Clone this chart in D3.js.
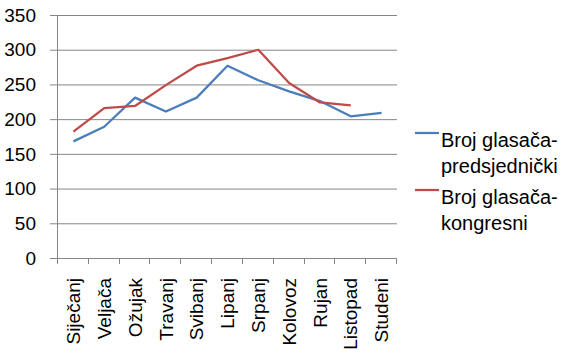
<!DOCTYPE html>
<html><head><meta charset="utf-8">
<script src="https://cdn.jsdelivr.net/npm/d3@7"></script>
<style>body{margin:0;background:#fff;} svg{display:block;font-family:"Liberation Sans",Arial,sans-serif;}</style>
</head><body>
<svg id="c" width="568" height="361"></svg>
<script>
const months = ["Siječanj","Veljača","Ožujak","Travanj","Svibanj","Lipanj","Srpanj","Kolovoz","Rujan","Listopad","Studeni"];
const predsjednicki = [168,189,231,211,231,277,256,240,226,204,209];
const kongresni = [182,216,219,249,277,288,300,252,224,220,null];
const yTicks = [0,50,100,150,200,250,300,350];
const seriesNames = [["Broj glasača-","predsjednički"],["Broj glasača-","kongresni"]];
const colors = ["#4A7EBB","#BE4B48"];

const svg = d3.select("#c");
const x = d3.scaleBand().domain(months).range([58,397]);
const y = d3.scaleLinear().domain([0,350]).range([258,15]);
const grid = "#868686";

// gridlines
svg.append("g").selectAll("line").data(yTicks).join("line")
  .attr("x1",50).attr("x2",397).attr("y1",d=>y(d)+0.5).attr("y2",d=>y(d)+0.5)
  .attr("stroke",grid).attr("stroke-width",1);
// y labels
svg.append("g").selectAll("text").data(yTicks).join("text")
  .attr("x",36).attr("y",d=>y(d)).attr("dy","0.35em").attr("text-anchor","end")
  .attr("font-size",19).attr("fill","#000").text(d=>d);
// y axis line
svg.append("line").attr("x1",57.5).attr("x2",57.5).attr("y1",y(350)).attr("y2",264).attr("stroke",grid);
// x ticks
const bounds = months.map(m=>x(m)).concat([x.range()[1]]);
svg.append("g").selectAll("line").data(bounds).join("line")
  .attr("x1",d=>Math.round(d)-0.5).attr("x2",d=>Math.round(d)-0.5).attr("y1",258).attr("y2",264)
  .attr("stroke",grid);
// x labels
svg.append("g").selectAll("text").data(months).join("text")
  .attr("transform",d=>`translate(${x(d)+x.bandwidth()/2},278) rotate(-90)`)
  .attr("dy","0.35em").attr("text-anchor","end").attr("font-size",19).attr("fill","#000").text(d=>d);

// lines
const line = d3.line().defined(d=>d!=null).x((d,i)=>x(months[i])+x.bandwidth()/2).y(d=>y(d));
[predsjednicki,kongresni].forEach((s,i)=>{
  svg.append("path").datum(s).attr("d",line).attr("fill","none")
    .attr("stroke",colors[i]).attr("stroke-width",2.25).attr("stroke-linejoin","round");
});

// legend
const lg = [{ly:133,ty:147},{ly:190,ty:204}];
seriesNames.forEach((n,i)=>{
  svg.append("line").attr("x1",415).attr("x2",439).attr("y1",lg[i].ly).attr("y2",lg[i].ly)
    .attr("stroke",colors[i]).attr("stroke-width",2.25);
  const t = svg.append("text").attr("x",441).attr("y",lg[i].ty).attr("font-size",20).attr("fill","#000");
  t.append("tspan").attr("x",441).text(n[0]);
  t.append("tspan").attr("x",441).attr("dy",26).text(n[1]);
});
</script>
</body></html>
